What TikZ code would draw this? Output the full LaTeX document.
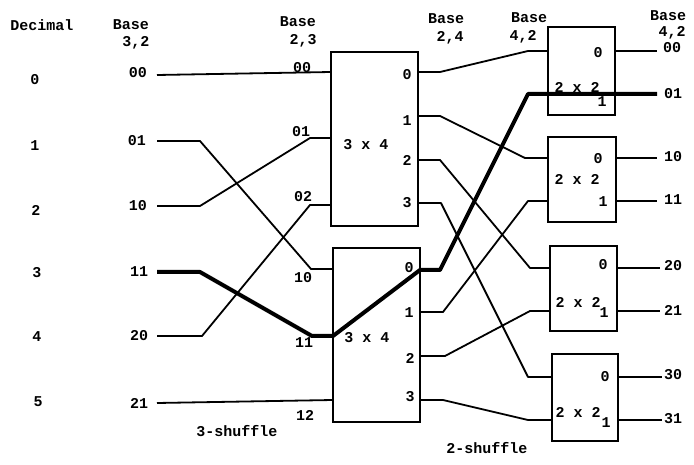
\documentclass[tikz,border=0pt]{standalone}
\usepackage{fontspec}
\newfontfamily\twfont{Liberation Mono}
\newcommand\lbfont{\twfont\bfseries\fontsize{15}{15}\selectfont}
\newcommand\hdfont{\twfont\bfseries\fontsize{15}{15}\selectfont}
\begin{document}
\begin{tikzpicture}[x=1pt,y=-1pt,
  lbl/.style={font=\lbfont, inner sep=0pt},
  hdr/.style={font=\hdfont, inner sep=0pt},
  wire/.style={line width=1.8pt, line join=round},
  hot/.style={line width=4pt, line join=round},
  box/.style={draw, line width=1.8pt, inner sep=0pt, outer sep=0pt, anchor=north west}]
\useasboundingbox (0,0) rectangle (694,465);
\fill[white] (0,0) rectangle (694,465);

% headers
\node[hdr] (hdec) at (42,25) {Decimal};
\node[hdr] (hb1) at (131,25) {Base}; \node[hdr] (hb1n) at (136,43) {3,2};
\node[hdr] (hb2) at (298,22) {Base}; \node[hdr] (hb2n) at (303,41) {2,3};
\node[hdr] (hb3) at (446,19) {Base}; \node[hdr] (hb3n) at (450,38) {2,4};
\node[hdr] (hb4) at (529,18) {Base}; \node[hdr] (hb4n) at (523,37) {4,2};
\node[hdr] (hb5) at (668,16) {Base}; \node[hdr] (hb5n) at (672,33) {4,2};

% decimal column
\node[lbl] (d0) at (35,80) {0};
\node[lbl] (d1) at (35,146) {1};
\node[lbl] (d2) at (36,210) {2};
\node[lbl] (d3) at (37,273) {3};
\node[lbl] (d4) at (37,337) {4};
\node[lbl] (d5) at (38,402) {5};

% base 3,2 column
\node[lbl] (l00) at (138,73) {00};
\node[lbl] (l01) at (137,141) {01};
\node[lbl] (l10) at (138,206) {10};
\node[lbl] (l11) at (139,272) {11};
\node[lbl] (l20) at (139,336) {20};
\node[lbl] (l21) at (139,403) {21};

% 3x4 boxes
\node[box, minimum width=87pt, minimum height=174pt] (b1) at (331,52) {};
\node[box, minimum width=87pt, minimum height=174pt] (b2) at (333,248) {};
\node[lbl] (b1t) at (366,145) {3 x 4};
\node[lbl] (b2t) at (367,338) {3 x 4};
% input labels
\node[lbl] (n00) at (302,68) {00};
\node[lbl] (n01) at (301,132) {01};
\node[lbl] (n02) at (303,197) {02};
\node[lbl] (n10) at (303,278) {10};
\node[lbl] (n11) at (304,343) {11};
\node[lbl] (n12) at (305,415) {12};
% output labels
\node[lbl] (p10) at (407,75) {0};
\node[lbl] (p11) at (407,121) {1};
\node[lbl] (p12) at (407,160) {2};
\node[lbl] (p13) at (407,203) {3};
\node[lbl] (p20) at (409,268) {0};
\node[lbl] (p21) at (409,313) {1};
\node[lbl] (p22) at (410,358) {2};
\node[lbl] (p23) at (410,397) {3};

% 2x2 boxes
\node[box, minimum width=67pt, minimum height=88pt] (bA) at (548,27) {};
\node[box, minimum width=68pt, minimum height=85pt] (bB) at (548,137) {};
\node[box, minimum width=67pt, minimum height=85pt] (bC) at (550,246) {};
\node[box, minimum width=66pt, minimum height=87pt] (bD) at (552,354) {};
\node[lbl] (tA) at (577,87) {2 x 2};
\node[lbl] (tB) at (577,179) {2 x 2};
\node[lbl] (tC) at (578,302) {2 x 2};
\node[lbl] (tD) at (578,412) {2 x 2};
\node[lbl] (qA0) at (598,53) {0};  \node[lbl] (qA1) at (602,102) {1};
\node[lbl] (qB0) at (598,159) {0}; \node[lbl] (qB1) at (603,202) {1};
\node[lbl] (qC0) at (603,265) {0}; \node[lbl] (qC1) at (604,313) {1};
\node[lbl] (qD0) at (605,377) {0}; \node[lbl] (qD1) at (606,423) {1};

% right labels
\node[lbl] (r00) at (672,48) {00};
\node[lbl] (r01) at (673,94) {01};
\node[lbl] (r10) at (673,157) {10};
\node[lbl] (r11) at (673,200) {11};
\node[lbl] (r20) at (673,266) {20};
\node[lbl] (r21) at (673,310) {21};
\node[lbl] (r30) at (673,375) {30};
\node[lbl] (r31) at (673,419) {31};

% shuffle labels
\node[hdr] (s3) at (237,431) {3-shuffle};
\node[hdr] (s2) at (487,448) {2-shuffle};

% port coordinates
\coordinate (i00) at (157,75);  \coordinate (i01) at (157,141);
\coordinate (i10) at (157,206); \coordinate (i11) at (157,272);
\coordinate (i20) at (157,336); \coordinate (i21) at (157,403);
\coordinate (b1i0) at (331,72); \coordinate (b1i1) at (331,138); \coordinate (b1i2) at (331,205);
\coordinate (b2i0) at (333,269); \coordinate (b2i1) at (333,336); \coordinate (b2i2) at (333,400);
\coordinate (b1o0) at (418,72); \coordinate (b1o1) at (418,116);
\coordinate (b1o2) at (418,160); \coordinate (b1o3) at (418,203);
\coordinate (b2o0) at (420,270); \coordinate (b2o1) at (420,312);
\coordinate (b2o2) at (420,356); \coordinate (b2o3) at (420,400);
\coordinate (Ai0) at (548,51);
\coordinate (Bi0) at (548,158); \coordinate (Bi1) at (548,201);
\coordinate (Ci0) at (550,268); \coordinate (Ci1) at (550,311);
\coordinate (Di0) at (552,377); \coordinate (Di1) at (552,420);
\coordinate (Ao0) at (615,51); \coordinate (o00) at (657,51);
\coordinate (o01) at (657,94);
\coordinate (Bo0) at (616,158); \coordinate (o10) at (657,158);
\coordinate (Bo1) at (616,201); \coordinate (o11) at (657,201);
\coordinate (Co0) at (617,268); \coordinate (o20) at (660,268);
\coordinate (Co1) at (617,311); \coordinate (o21) at (660,311);
\coordinate (Do0) at (618,377); \coordinate (o30) at (662,377);
\coordinate (Do1) at (618,420); \coordinate (o31) at (662,420);

% 3-shuffle
\draw[wire] (i00) -- (b1i0);
\draw[wire] (i01) -- (200,141) -- (311,269) -- (b2i0);
\draw[wire] (i10) -- (200,206) -- (310,138) -- (b1i1);
\draw[wire] (i20) -- (202,336) -- (310,205) -- (b1i2);
\draw[wire] (i21) -- (b2i2);

% 2-shuffle
\draw[wire] (b1o0) -- (440,72) -- (528,51) -- (Ai0);
\draw[wire] (b1o1) -- (440,116) -- (525,158) -- (Bi0);
\draw[wire] (b1o2) -- (440,160) -- (530,268) -- (Ci0);
\draw[wire] (b1o3) -- (441,203) -- (528,377) -- (Di0);
\draw[wire] (b2o1) -- (443,312) -- (528,201) -- (Bi1);
\draw[wire] (b2o2) -- (445,356) -- (530,311) -- (Ci1);
\draw[wire] (b2o3) -- (443,400) -- (528,420) -- (Di1);

% outputs
\draw[wire] (Ao0) -- (o00);
\draw[wire] (Bo0) -- (o10);
\draw[wire] (Bo1) -- (o11);
\draw[wire] (Co0) -- (o20);
\draw[wire] (Co1) -- (o21);
\draw[wire] (Do0) -- (o30);
\draw[wire] (Do1) -- (o31);

% highlighted path
\draw[hot] (i11) -- (200,272) -- (312,336) -- (b2i1) -- (b2o0) -- (440,270) -- (528,94) -- (o01);
\end{tikzpicture}
\end{document}
